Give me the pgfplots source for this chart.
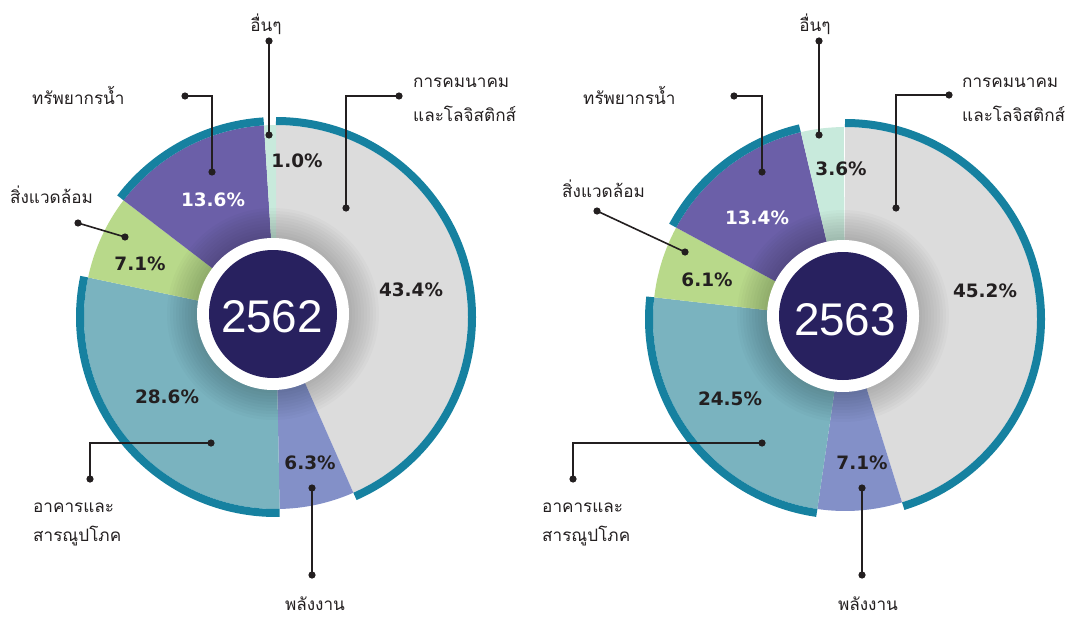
\documentclass[border=0pt]{standalone}
\usepackage{pgfplots}
\pgfplotsset{compat=1.18}
\usepackage{pgfplotstable}
\usepackage{fontspec}
\newfontfamily\thaifont[Script=Thai]{Loma}
\newfontfamily\pctfont{DejaVu Sans}
\newfontfamily\yrfont{Liberation Sans}

\definecolor{cgray}{HTML}{DCDCDC}
\definecolor{cblue}{HTML}{8390C8}
\definecolor{cteal}{HTML}{7AB3BF}
\definecolor{cgreen}{HTML}{B8D98A}
\definecolor{cpurple}{HTML}{6B5FA8}
\definecolor{cmint}{HTML}{C8EADC}
\definecolor{cring}{HTML}{1681A0}
\definecolor{cnavy}{HTML}{28215F}
\definecolor{ctext}{HTML}{231F20}

% slices clockwise from 12 o'clock
\pgfplotstableread{
name   v    col     ring
trans  43.4 cgray   1
energy 6.3  cblue   0
build  28.6 cteal   1
env    7.1  cgreen  0
water  13.6 cpurple 1
other  1.0  cmint   0
}\tblA
\pgfplotstableread{
name   v    col     ring
trans  45.2 cgray   1
energy 7.1  cblue   0
build  24.5 cteal   1
env    6.1  cgreen  0
water  13.4 cpurple 1
other  3.6  cmint   0
}\tblB

\newcommand\drawpie[4]{%
  \def\cum{0}%
  \pgfplotsforeachungrouped \i in {0,...,5}{%
    \pgfplotstablegetelem{\i}{v}\of#1\let\val\pgfplotsretval
    \pgfplotstablegetelem{\i}{col}\of#1\let\colr\pgfplotsretval
    \pgfplotstablegetelem{\i}{ring}\of#1\let\rg\pgfplotsretval
    \pgfmathsetmacro\sa{90-3.6*\cum}%
    \pgfmathsetmacro\cum{\cum+\val}%
    \pgfmathsetmacro\ea{90-3.6*\cum}%
    \edef\temp{\noexpand\fill[\colr] (#2,#3) -- ++(\sa:#4bp) arc[start angle=\sa, end angle=\ea, radius=#4bp] -- cycle;}%
    \temp
    \ifnum\rg=1
      \pgfmathsetmacro\rr{#4+4}%
      \edef\temp{\noexpand\draw[cring, line width=8bp] (#2,#3) ++(\sa:\rr bp) arc[start angle=\sa, end angle=\ea, radius=\rr bp];}%
      \temp
    \fi
  }%
}

\newcommand\hole[5]{% cx cy year tx ty
  \fill[black,opacity=0.02] (#1,#2) circle[radius=106bp];
  \fill[black,opacity=0.02] (#1,#2) circle[radius=103bp];
  \fill[black,opacity=0.02] (#1,#2) circle[radius=100bp];
  \fill[black,opacity=0.02] (#1,#2) circle[radius=97bp];
  \fill[black,opacity=0.02] (#1,#2) circle[radius=94bp];
  \fill[black,opacity=0.02] (#1,#2) circle[radius=91bp];
  \fill[black,opacity=0.02] (#1,#2) circle[radius=88bp];
  \fill[black,opacity=0.02] (#1,#2) circle[radius=85bp];
  \fill[black,opacity=0.02] (#1,#2) circle[radius=82bp];
  \fill[black,opacity=0.02] (#1,#2) circle[radius=79bp];
  \fill[white] (#1,#2) circle[radius=76bp];
  \fill[cnavy] (#1,#2) circle[radius=64bp];
  \node[text=white, font=\yrfont\fontsize{46}{50}\selectfont, inner sep=0pt] at (#4,#5) {#3};
}

\tikzset{
  lead/.style={draw=ctext, line width=1.6bp},
  pct/.style={font=\pctfont\bfseries\fontsize{18.5}{20}\selectfont, text=ctext, inner sep=0pt},
  lab/.style={font=\thaifont\fontsize{17.2}{20}\selectfont, text=ctext, inner sep=0pt},
}
\newcommand\dotat[1]{\fill[ctext] (#1) circle[radius=3.6bp];}

\begin{document}
\begin{tikzpicture}
\begin{axis}[at={(0,0)}, anchor=south west, scale only axis,
  width=1068bp, height=618bp, xmin=0, xmax=1068, ymin=0, ymax=618,
  y dir=reverse, hide axis, clip=false]
  % ---- pies
  \drawpie{\tblA}{276}{317}{192}
  \drawpie{\tblB}{845}{319}{192}
  \hole{273}{314}{2562}{272}{317}
  \hole{843}{316}{2563}{845}{320}
  % ---- percentages
  \node[pct] at (297,161) {1.0\%};
  \node[pct,text=white] at (213,200) {13.6\%};
  \node[pct] at (140,264) {7.1\%};
  \node[pct] at (411,290) {43.4\%};
  \node[pct] at (167,397) {28.6\%};
  \node[pct] at (310,463) {6.3\%};
  \node[pct] at (841,169) {3.6\%};
  \node[pct,text=white] at (757,218) {13.4\%};
  \node[pct] at (707,280) {6.1\%};
  \node[pct] at (985,291) {45.2\%};
  \node[pct] at (730,399) {24.5\%};
  \node[pct] at (862,463) {7.1\%};
  % ---- leaders left
  \draw[lead] (269,41) -- (269,135); \dotat{269,41} \dotat{269,135}
  \draw[lead] (185,96) -- (212,96) -- (212,172); \dotat{185,96} \dotat{212,172}
  \draw[lead] (399,96) -- (346,96) -- (346,208); \dotat{399,96} \dotat{346,208}
  \draw[lead] (78,223) -- (125,237); \dotat{78,223} \dotat{125,237}
  \draw[lead] (211,443) -- (90,443) -- (90,479); \dotat{211,443} \dotat{90,479}
  \draw[lead] (312,488) -- (312,575); \dotat{312,488} \dotat{312,575}
  % ---- leaders right
  \draw[lead] (819,41) -- (819,135); \dotat{819,41} \dotat{819,135}
  \draw[lead] (734,96) -- (762,96) -- (762,172); \dotat{734,96} \dotat{762,172}
  \draw[lead] (949,95) -- (896,95) -- (896,208); \dotat{949,95} \dotat{896,208}
  \draw[lead] (597,211) -- (685,252); \dotat{597,211} \dotat{685,252}
  \draw[lead] (762,443) -- (573,443) -- (573,479); \dotat{762,443} \dotat{573,479}
  \draw[lead] (862,488) -- (862,575); \dotat{862,488} \dotat{862,575}
  % ---- labels left
  \node[lab,anchor=base] at (266,32) {อื่นๆ};
  \node[lab,anchor=base west] at (32,105) {ทรัพยากรน้ำ};
  \node[lab,anchor=base west] at (10,203) {สิ่งแวดล้อม};
  \node[lab,anchor=base west] at (413,88) {การคมนาคม};
  \node[lab,anchor=base west] at (413,122) {และโลจิสติกส์};
  \node[lab,anchor=base west] at (33,512) {อาคารและ};
  \node[lab,anchor=base west] at (33,541) {สารณูปโภค};
  \node[lab,anchor=base] at (315,610) {พลังงาน};
  % ---- labels right
  \node[lab,anchor=base] at (815,32) {อื่นๆ};
  \node[lab,anchor=base west] at (583,105) {ทรัพยากรน้ำ};
  \node[lab,anchor=base west] at (562,197) {สิ่งแวดล้อม};
  \node[lab,anchor=base west] at (962,88) {การคมนาคม};
  \node[lab,anchor=base west] at (962,122) {และโลจิสติกส์};
  \node[lab,anchor=base west] at (542,512) {อาคารและ};
  \node[lab,anchor=base west] at (542,541) {สารณูปโภค};
  \node[lab,anchor=base] at (868,610) {พลังงาน};
\end{axis}
\pgfresetboundingbox
\useasboundingbox (0,0) rectangle (1068bp,618bp);
\end{tikzpicture}
\end{document}
